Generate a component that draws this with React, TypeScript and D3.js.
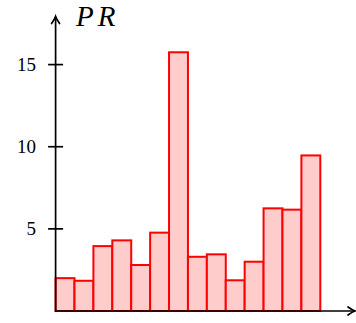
import React from "react";
import * as d3 from "d3";

// Bar heights, left to right
const categories = ["1", "2", "3", "4", "5", "6", "7", "8", "9", "10", "11", "12", "13", "14"];
const values = [2.0, 1.84, 3.95, 4.3, 2.8, 4.77, 15.75, 3.3, 3.45, 1.87, 3.0, 6.25, 6.17, 9.47];
const yTicks = [5, 10, 15];
const axisLabel = "PR";

const W = 356;
const H = 323;
const x0 = 55.6;
const y0 = 311;
const serif = "'Liberation Serif', serif";

export default function App() {
  const x = d3.scaleBand<string>().domain(categories).range([x0, 320.3]).padding(0);
  const y = d3.scaleLinear().domain([0, 15]).range([y0, 64.6]);

  const yTip = 16.5;
  const xTip = 355;

  return (
    <svg
      width={W}
      height={H}
      style={{ position: "absolute", left: 0, top: 0, background: "#fff" }}
    >
      {/* bars */}
      <g>
        {categories.map((c, i) => (
          <rect
            key={c}
            x={x(c)!}
            y={y(values[i])}
            width={x.bandwidth()}
            height={y0 - y(values[i])}
            fill="#ffcccc"
            stroke="#ff0000"
            strokeWidth={2}
          />
        ))}
      </g>
      {/* axes */}
      <g stroke="#000" strokeWidth={1.7} fill="none" strokeLinecap="round">
        <line x1={x0} y1={y0} x2={x0} y2={yTip + 0.5} />
        <line x1={x0} y1={y0} x2={xTip - 0.5} y2={y0} />
        <path d={`M${x0 - 4},${yTip + 7} Q${x0 - 0.8},${yTip + 2.5} ${x0},${yTip} Q${x0 + 0.8},${yTip + 2.5} ${x0 + 4},${yTip + 7}`} />
        <path d={`M${xTip - 7},${y0 - 4} Q${xTip - 2.5},${y0 - 0.8} ${xTip},${y0} Q${xTip - 2.5},${y0 + 0.8} ${xTip - 7},${y0 + 4}`} />
        {yTicks.map((t) => (
          <line key={t} x1={x0 - 7.5} x2={x0 + 7.5} y1={y(t)} y2={y(t)} strokeLinecap="butt" />
        ))}
      </g>
      {/* tick labels */}
      <g style={{ fontFamily: serif }} fontSize={19} fill="#000" textAnchor="end">
        {yTicks.map((t) => (
          <text key={t} x={36} y={y(t) + 6.5}>
            {t}
          </text>
        ))}
      </g>
      <text
        x={76}
        y={26}
        style={{ fontFamily: serif }}
        fontStyle="italic"
        fontSize={29}
        letterSpacing={4}
        fill="#000"
      >
        {axisLabel}
      </text>
    </svg>
  );
}
